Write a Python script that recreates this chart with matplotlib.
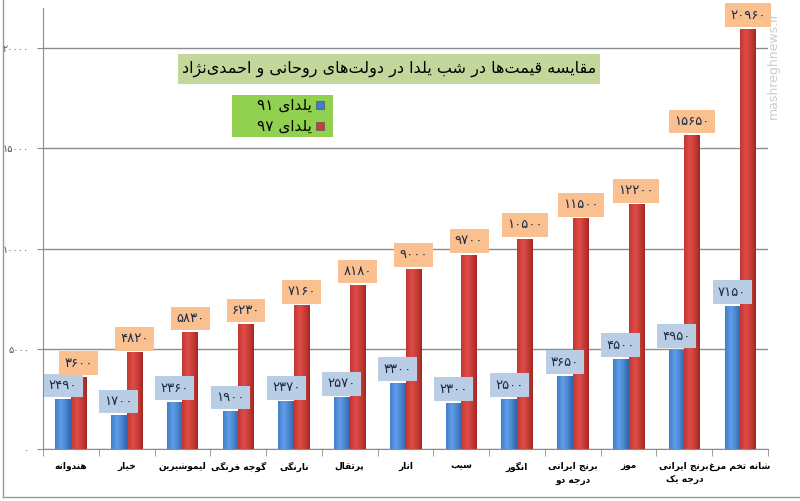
import re
import numpy as np
import matplotlib
matplotlib.use('Agg')
import matplotlib.pyplot as plt
from matplotlib.patches import Rectangle
from matplotlib.lines import Line2D

categories = ['هندوانه', 'خیار', 'لیموشیرین', 'گوجه فرنگی', 'نارنگی', 'پرتقال', 'انار',
              'سیب', 'انگور', 'برنج ایرانی\nدرجه دو', 'موز', 'برنج ایرانی\nدرجه یک', 'شانه تخم مرغ']
yalda91 = [2490, 1700, 2360, 1900, 2370, 2570, 3300, 2300, 2500, 3650, 4500, 4950, 7150]
yalda97 = [3600, 4820, 5830, 6230, 7160, 8180, 9000, 9700, 10500, 11500, 12200, 15650, 20960]
yticks = [0, 5000, 10000, 15000, 20000]
title = 'مقایسه قیمت‌ها در شب یلدا در دولت‌های روحانی و احمدی‌نژاد'
legend_labels = ['یلدای ۹۱', 'یلدای ۹۷']

# arabic presentation forms: isolated, final, initial, medial
FORMS = {
    'ا': (0xFE8D, 0xFE8E, None, None),
    'ب': (0xFE8F, 0xFE90, 0xFE91, 0xFE92),
    'پ': (0xFB56, 0xFB57, 0xFB58, 0xFB59),
    'ت': (0xFE95, 0xFE96, 0xFE97, 0xFE98),
    'ج': (0xFE9D, 0xFE9E, 0xFE9F, 0xFEA0),
    'ح': (0xFEA1, 0xFEA2, 0xFEA3, 0xFEA4),
    'خ': (0xFEA5, 0xFEA6, 0xFEA7, 0xFEA8),
    'د': (0xFEA9, 0xFEAA, None, None),
    'ر': (0xFEAD, 0xFEAE, None, None),
    'ز': (0xFEAF, 0xFEB0, None, None),
    'ژ': (0xFB8A, 0xFB8B, None, None),
    'س': (0xFEB1, 0xFEB2, 0xFEB3, 0xFEB4),
    'ش': (0xFEB5, 0xFEB6, 0xFEB7, 0xFEB8),
    'غ': (0xFECD, 0xFECE, 0xFECF, 0xFED0),
    'ف': (0xFED1, 0xFED2, 0xFED3, 0xFED4),
    'ق': (0xFED5, 0xFED6, 0xFED7, 0xFED8),
    'ک': (0xFB8E, 0xFB8F, 0xFB90, 0xFB91),
    'گ': (0xFB92, 0xFB93, 0xFB94, 0xFB95),
    'ل': (0xFEDD, 0xFEDE, 0xFEDF, 0xFEE0),
    'م': (0xFEE1, 0xFEE2, 0xFEE3, 0xFEE4),
    'ن': (0xFEE5, 0xFEE6, 0xFEE7, 0xFEE8),
    'ه': (0xFEE9, 0xFEEA, 0xFEEB, 0xFEEC),
    'و': (0xFEED, 0xFEEE, None, None),
    'ی': (0xFBFC, 0xFBFD, 0xFBFE, 0xFBFF),
}


def shape_line(s):
    out = []
    for i, c in enumerate(s):
        if c not in FORMS:
            out.append(c)
            continue
        f = FORMS[c]
        prev = s[i - 1] if i > 0 else None
        nxt = s[i + 1] if i + 1 < len(s) else None
        jp = prev in FORMS and FORMS[prev][2] is not None
        jn = nxt in FORMS and f[2] is not None
        if jp and jn:
            g = f[3]
        elif jp:
            g = f[1]
        elif jn:
            g = f[2]
        else:
            g = f[0]
        out.append(chr(g))
    vis = ''.join(out).replace('\u200c', '')[::-1]
    return re.sub(r'[۰-۹0-9]+', lambda m: m.group(0)[::-1], vis)


def fa(s):
    return '\n'.join(shape_line(l) for l in s.split('\n'))


def fa_num(n):
    return str(n).translate(str.maketrans('0123456789', '۰۱۲۳۴۵۶۷۸۹'))


def gradient_bar(ax, x0, w, h, dark, light):
    t = np.linspace(0, 1, 64)
    prof = np.clip(1 - np.abs(t - 0.38) / 0.62, 0, 1) ** 0.8
    c0 = np.array(matplotlib.colors.to_rgb(dark))
    c1 = np.array(matplotlib.colors.to_rgb(light))
    img = c0[None, :] + (c1 - c0)[None, :] * prof[:, None]
    img = img[None, :, :]
    rect = Rectangle((x0, 0), w, h, facecolor=dark, edgecolor='none', zorder=2)
    ax.add_patch(rect)
    im = ax.imshow(img, extent=[x0, x0 + w, 0, h], aspect='auto', zorder=2.1,
                   interpolation='bilinear')
    im.set_clip_path(rect)


fig = plt.figure(figsize=(8, 5.01), dpi=100)
W, H = 800, 501
ax = fig.add_axes([43 / W, 1 - 449 / H, (768 - 43) / W, (449 - 8) / H])

x = np.arange(len(categories))
bw = 0.28
box = dict(boxstyle='square,pad=0.4', edgecolor='none')
for i in x:
    gradient_bar(ax, i - bw, bw, yalda91[i], '#2b60a8', '#5f9eea')
    gradient_bar(ax, i, bw, yalda97[i], '#a02522', '#e14c46')
    ax.text(i - bw / 2, yalda91[i] + 680, fa_num(yalda91[i]), ha='center', va='center',
            fontsize=9.5, color='#1d2b45', zorder=5, bbox=dict(box, facecolor='#b9cde5'))
    ax.text(i + bw / 2, yalda97[i] + 680, fa_num(yalda97[i]), ha='center', va='center',
            fontsize=9.5, color='#1d2b45', zorder=5, bbox=dict(box, facecolor='#fac090'))

ax.set_xlim(-0.5, len(categories) - 0.5)
ax.set_ylim(0, 22000)
ax.set_yticks(yticks)
ax.set_yticklabels([fa_num(v) for v in yticks], fontsize=7, color='#555555')
ax.grid(axis='y', color='#8c8c8c', linewidth=1, zorder=0)
ax.set_axisbelow(True)
ax.set_xticks(x)
ax.set_xticklabels([fa(c) for c in categories], fontsize=6.5, fontweight='bold',
                   linespacing=1.8, va='top')
ax.set_xticks(np.arange(-0.5, len(categories)), minor=True)
ax.tick_params(axis='x', which='major', length=0, pad=9)
ax.tick_params(axis='x', which='minor', length=5, color='#8c8c8c')
ax.tick_params(axis='y', length=4, color='#8c8c8c', pad=6)
for s in ['top', 'right']:
    ax.spines[s].set_visible(False)
for s in ['left', 'bottom']:
    ax.spines[s].set_color('#8c8c8c')

# title box
fig.patches.append(Rectangle((178 / W, 1 - 84 / H), (600 - 178) / W, 30 / H,
                             transform=fig.transFigure, facecolor='#c4d79b', edgecolor='none'))
fig.text(389 / W, 1 - 69 / H, fa(title), ha='center', va='center', fontsize=11.5, color='black')

# legend box
fig.patches.append(Rectangle((232 / W, 1 - 137 / H), (333 - 232) / W, 42 / H,
                             transform=fig.transFigure, facecolor='#92d050', edgecolor='none'))
for j, (lab, col) in enumerate(zip(legend_labels, ['#3f7fd0', '#d23a35'])):
    yy = 105 + j * 21
    fig.patches.append(Rectangle((316 / W, 1 - (yy + 4) / H), 8 / W, 8 / H,
                                 transform=fig.transFigure, facecolor=col, edgecolor='#555555',
                                 linewidth=0.5))
    fig.text(312 / W, 1 - yy / H, fa(lab), ha='right', va='center', fontsize=11, color='black')

# watermark
fig.text(773 / W, 1 - 65 / H, 'mashreghnews.ir', rotation=90, ha='center', va='center',
         fontsize=9, color='#cccccc')

# outer frame
fig.lines.append(Line2D([3 / W, 3 / W], [1 - 497 / H, 1], transform=fig.transFigure,
                        color='#999999', linewidth=1))
fig.lines.append(Line2D([3 / W, 1], [1 - 497 / H, 1 - 497 / H], transform=fig.transFigure,
                        color='#999999', linewidth=1))

fig.savefig('out.png', dpi=100)
